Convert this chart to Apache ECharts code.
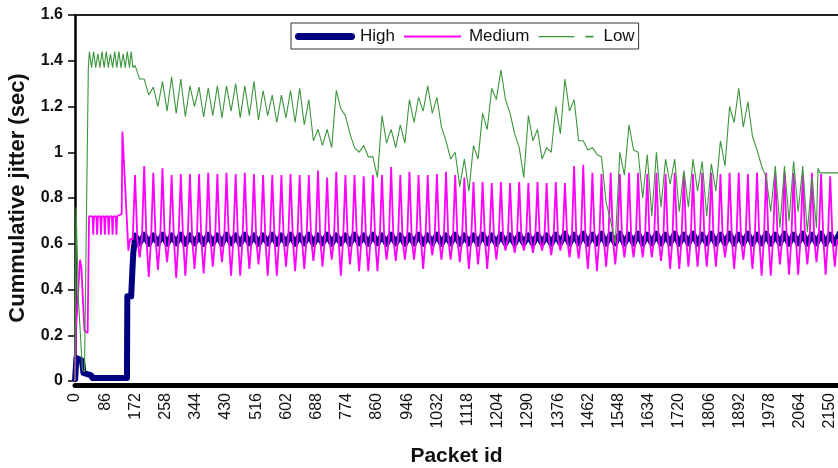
<!DOCTYPE html>
<html>
<head>
<meta charset="utf-8">
<title>Cummulative jitter per packet</title>
<script src="https://cdn.jsdelivr.net/npm/echarts@6.0.0/dist/echarts.min.js"></script>
<style>
  html, body { margin: 0; padding: 0; background: #fff; }
  #chart { width: 838px; height: 468px; }
</style>
</head>
<body>
<div id="chart"></div>
<script>
// ---- Data (packet id -> cumulative jitter in seconds) ----

// Start-up phase of each priority class, as [packet id, jitter] pairs.
const highStart = [
  [0, 0], [4, 0.10], [20, 0.09], [24, 0.035], [46, 0.025], [50, 0.013],
  [148, 0.013], [149, 0.37], [160, 0.37], [163, 0.47], [166, 0.56], [169, 0.60]
];
const mediumStart = [
  [0, 0], [2, 0.22], [6, 0.30], [14, 0.53], [18, 0.50], [27, 0.22], [36, 0.21],
  [40, 0.72], [50, 0.72], [52, 0.64], [54, 0.72], [61, 0.72], [63, 0.64], [65, 0.72],
  [72, 0.72], [74, 0.64], [76, 0.72], [83, 0.72], [85, 0.64], [87, 0.72],
  [94, 0.72], [96, 0.64], [98, 0.72], [105, 0.72], [107, 0.64], [109, 0.72],
  [116, 0.72], [118, 0.64], [120, 0.72], [133, 0.73], [135, 1.09], [152, 0.57], [157, 0.62]
];
const lowStart = [
  [0, 0], [3, 0.76], [10, 0.35], [21, 0.05], [27, 0.04], [38, 1.37],
  [41, 1.44], [47, 1.37], [53, 1.44], [59, 1.37], [65, 1.43], [71, 1.37],
  [77, 1.44], [83, 1.37], [89, 1.44], [95, 1.37], [101, 1.43], [107, 1.37],
  [113, 1.44], [119, 1.37], [125, 1.44], [131, 1.37], [137, 1.43], [143, 1.37],
  [149, 1.44], [155, 1.37], [160, 1.44], [165, 1.37]
];

// Steady phase: traffic repeats in bursts, one entry per burst.
const burstStart = 171;     // packet id of the first burst
const burstLength = 26.05;  // packets per burst

const highTops = [
  0.636, 0.64, 0.636, 0.64, 0.636, 0.64, 0.636, 0.636, 0.64, 0.636,
  0.64, 0.636, 0.64, 0.636, 0.636, 0.64, 0.636, 0.64, 0.636, 0.64,
  0.636, 0.64, 0.636, 0.636, 0.64, 0.636, 0.64, 0.636, 0.64, 0.636,
  0.636, 0.64, 0.636, 0.64, 0.636, 0.64, 0.636, 0.636, 0.64, 0.636,
  0.64, 0.636, 0.64, 0.636, 0.64, 0.636, 0.64, 0.644, 0.64, 0.644,
  0.64, 0.644, 0.64, 0.644, 0.64, 0.644, 0.64, 0.644, 0.64, 0.644,
  0.64, 0.644, 0.64, 0.644, 0.64, 0.644, 0.64, 0.644, 0.64, 0.644,
  0.64, 0.644, 0.64, 0.644, 0.64, 0.644, 0.64, 0.644
];
const highLows = [
  0.602, 0.60, 0.602, 0.60, 0.602, 0.60, 0.602, 0.60, 0.602, 0.60,
  0.602, 0.60, 0.602, 0.60, 0.602, 0.60, 0.602, 0.60, 0.602, 0.60,
  0.602, 0.60, 0.602, 0.60, 0.602, 0.60, 0.602, 0.60, 0.602, 0.60,
  0.602, 0.60, 0.602, 0.60, 0.602, 0.60, 0.602, 0.60, 0.602, 0.60,
  0.602, 0.60, 0.602, 0.60, 0.602, 0.60, 0.602, 0.60, 0.602, 0.60,
  0.602, 0.60, 0.602, 0.60, 0.602, 0.60, 0.602, 0.60, 0.602, 0.60,
  0.602, 0.60, 0.602, 0.60, 0.602, 0.60, 0.602, 0.60, 0.602, 0.60,
  0.602, 0.60, 0.602, 0.60, 0.602, 0.60, 0.602, 0.60
];

const mediumRest = 0.62;
const mediumPeaks = [
  0.90, 0.94, 0.91, 0.93, 0.90, 0.905, 0.905, 0.905, 0.91, 0.905,
  0.91, 0.905, 0.91, 0.905, 0.90, 0.90, 0.90, 0.905, 0.90, 0.90,
  0.92, 0.89, 0.915, 0.90, 0.90, 0.895, 0.90, 0.90, 0.935, 0.90,
  0.915, 0.90, 0.90, 0.905, 0.915, 0.90, 0.89, 0.87, 0.87, 0.865,
  0.87, 0.865, 0.87, 0.865, 0.87, 0.865, 0.87, 0.865, 0.94, 0.945,
  0.91, 0.905, 0.91, 0.905, 0.91, 0.91, 0.905, 0.91, 0.905, 0.91,
  0.91, 0.905, 0.91, 0.91, 0.905, 0.91, 0.91, 0.905, 0.91, 0.91,
  0.905, 0.91, 0.91, 0.905, 0.91, 0.905, 0.895
];
const mediumDips = [
  0.54, 0.455, 0.485, 0.52, 0.45, 0.46, 0.49, 0.47, 0.50, 0.52,
  0.46, 0.46, 0.49, 0.51, 0.46, 0.46, 0.50, 0.48, 0.49, 0.525,
  0.50, 0.53, 0.46, 0.51, 0.48, 0.48, 0.48, 0.53, 0.525, 0.53,
  0.53, 0.49, 0.55, 0.53, 0.53, 0.52, 0.49, 0.51, 0.49, 0.53,
  0.57, 0.56, 0.57, 0.56, 0.57, 0.55, 0.57, 0.54, 0.535, 0.49,
  0.48, 0.50, 0.51, 0.54, 0.54, 0.54, 0.54, 0.525, 0.49, 0.49,
  0.50, 0.50, 0.50, 0.50, 0.54, 0.49, 0.53, 0.49, 0.46, 0.46,
  0.51, 0.465, 0.465, 0.51, 0.52, 0.465, 0.50
];

const lowTops = [
  1.38, 1.32, 1.285, 1.31, 1.33, 1.32, 1.29, 1.285, 1.28, 1.29,
  1.29, 1.30, 1.29, 1.31, 1.27, 1.25, 1.25, 1.27, 1.28, 1.23,
  1.10, 1.10, 1.27, 1.16, 1.02, 1.03, 0.98, 1.16, 1.10, 1.12,
  1.23, 1.24, 1.29, 1.24, 1.05, 1.00, 0.97, 1.03, 1.17, 1.28,
  1.36, 1.17, 1.02, 1.16, 1.10, 1.02, 1.20, 1.32, 1.23, 1.05,
  1.02, 0.98, 0.70, 1.00, 1.12, 1.00, 0.99, 1.00, 0.97, 0.97,
  0.92, 0.97, 0.96, 0.95, 1.05, 1.20, 1.28, 1.22, 1.01, 0.89,
  0.94, 0.94, 0.96, 0.94, 0.89
];
const lowDips = [
  1.32, 1.25, 1.20, 1.18, 1.17, 1.155, 1.20, 1.155, 1.16, 1.15,
  1.18, 1.15, 1.16, 1.14, 1.16, 1.13, 1.15, 1.13, 1.12, 1.05,
  1.03, 1.02, 1.19, 1.08, 1.00, 0.98, 0.89, 1.04, 1.02, 1.04,
  1.13, 1.18, 1.17, 1.11, 0.97, 0.85, 0.83, 0.97, 1.10, 1.23,
  1.23, 1.08, 0.89, 1.05, 0.97, 1.00, 1.08, 1.18, 1.05, 1.01,
  0.99, 0.78, 0.60, 0.90, 1.01, 0.80, 0.72, 0.76, 0.86, 0.74,
  0.76, 0.83, 0.72, 0.83, 0.94, 1.13, 1.11, 1.07, 0.94, 0.74,
  0.67, 0.70, 0.74, 0.65, 0.67
];
// Low-priority flow after its last burst.
const lowEnd = [[2116, 0.93], [2121, 0.91], [2173, 0.91]];

// Axis ticks
const packetTickStep = 86;
const packetMax = 2173;
const jitterMax = 1.6;
const jitterTickStep = 0.2;

// ---- Build series point lists ----
const burstAt = (k, phase) => +(burstStart + burstLength * (k + phase)).toFixed(2);

const highData = highStart.slice();
highTops.forEach((top, k) => {
  highData.push([burstAt(k, 0), top], [burstAt(k, 0.5), highLows[k]]);
});

const mediumData = mediumStart.slice();
mediumPeaks.forEach((peak, k) => {
  mediumData.push(
    [burstAt(k, -0.25), mediumRest],
    [burstAt(k, 0), peak],
    [burstAt(k, 0.25), mediumRest],
    [burstAt(k, 0.5), mediumDips[k]]
  );
});
mediumData.push([burstAt(mediumPeaks.length - 1, 0.75), mediumRest]);

const lowData = lowStart.slice();
lowTops.forEach((top, k) => {
  lowData.push([burstAt(k, 0), top], [burstAt(k, 0.5), lowDips[k]]);
});
lowEnd.forEach(p => lowData.push(p));

// ---- Chart ----
const FONT = '"Liberation Sans", Arial, Helvetica, sans-serif';
const HIGH_COLOR = '#000080';
const MEDIUM_COLOR = '#ff00ff';
const LOW_COLOR = '#3c963c';

const chart = echarts.init(document.getElementById('chart'), null, { renderer: 'canvas' });

chart.setOption({
  animation: false,
  backgroundColor: '#ffffff',
  grid: { left: 75, right: 0, top: 15, bottom: 87, containLabel: false, outerBoundsMode: 'none' },
  legend: {
    left: 291,
    top: 23,
    orient: 'horizontal',
    padding: [5, 4, 4, 4],
    itemGap: 9,
    itemWidth: 60,
    itemHeight: 7,
    borderColor: '#333',
    borderWidth: 1,
    backgroundColor: '#fff',
    textStyle: { fontFamily: FONT, fontSize: 17, color: '#111' },
    data: [
      { name: 'High', icon: 'path://M3.5,0H56.5A3.5,3.5,0,0,1,56.5,7H3.5A3.5,3.5,0,0,1,3.5,0Z' },
      { name: 'Medium', icon: 'path://M0,0M60,7M0,2.6H57V4.4H0Z' },
      { name: 'Low', icon: 'path://M0,0M60,7M0,3H36V4.2H0Z M47,2.8H55V4.4H47Z' }
    ]
  },
  xAxis: [
    {
      type: 'value',
      position: 'bottom',
      min: 0,
      max: packetMax,
      interval: packetTickStep,
      offset: 4,
      name: 'Packet id',
      nameLocation: 'middle',
      nameGap: 61,
      nameTextStyle: { fontFamily: FONT, fontSize: 21, fontWeight: 'bold', color: '#111' },
      axisLine: { show: true, onZero: false, lineStyle: { color: '#000', width: 5 } },
      axisTick: { show: false },
      splitLine: { show: false },
      axisLabel: {
        rotate: 90,
        margin: 8,
        fontFamily: FONT,
        fontSize: 16,
        color: '#111',
        showMaxLabel: false,
        showMinLabel: true,
        formatter: value => String(value)
      }
    },
    {
      type: 'value',
      position: 'top',
      min: 0,
      max: packetMax,
      axisLine: { show: true, onZero: false, lineStyle: { color: '#222', width: 2 } },
      axisTick: { show: false },
      axisLabel: { show: false },
      splitLine: { show: false }
    }
  ],
  yAxis: {
    type: 'value',
    min: 0,
    max: jitterMax,
    interval: jitterTickStep,
    name: 'Cummulative jitter (sec)',
    nameLocation: 'middle',
    nameGap: 46,
    nameTextStyle: { fontFamily: FONT, fontSize: 22, fontWeight: 'bold', color: '#111' },
    axisLine: { show: true, onZero: false, lineStyle: { color: '#000', width: 2.5 } },
    axisTick: { show: true, inside: false, length: 7, lineStyle: { color: '#000', width: 1.5 } },
    splitLine: { show: false },
    axisLabel: { margin: 12, fontFamily: FONT, fontSize: 16, fontWeight: 'bold', color: '#111' }
  },
  series: [
    {
      name: 'High',
      type: 'line',
      data: highData,
      showSymbol: false,
      symbol: 'none',
      clip: true,
      itemStyle: { color: HIGH_COLOR },
      lineStyle: { color: HIGH_COLOR, width: 6, join: 'round' },
      emphasis: { disabled: true },
      z: 2
    },
    {
      name: 'Medium',
      type: 'line',
      data: mediumData,
      showSymbol: false,
      symbol: 'none',
      clip: true,
      itemStyle: { color: MEDIUM_COLOR },
      lineStyle: { color: MEDIUM_COLOR, width: 1.8 },
      emphasis: { disabled: true },
      z: 3
    },
    {
      name: 'Low',
      type: 'line',
      data: lowData,
      showSymbol: false,
      symbol: 'none',
      clip: true,
      itemStyle: { color: LOW_COLOR },
      lineStyle: { color: LOW_COLOR, width: 1.1 },
      emphasis: { disabled: true },
      z: 4
    }
  ]
});
</script>
</body>
</html>
